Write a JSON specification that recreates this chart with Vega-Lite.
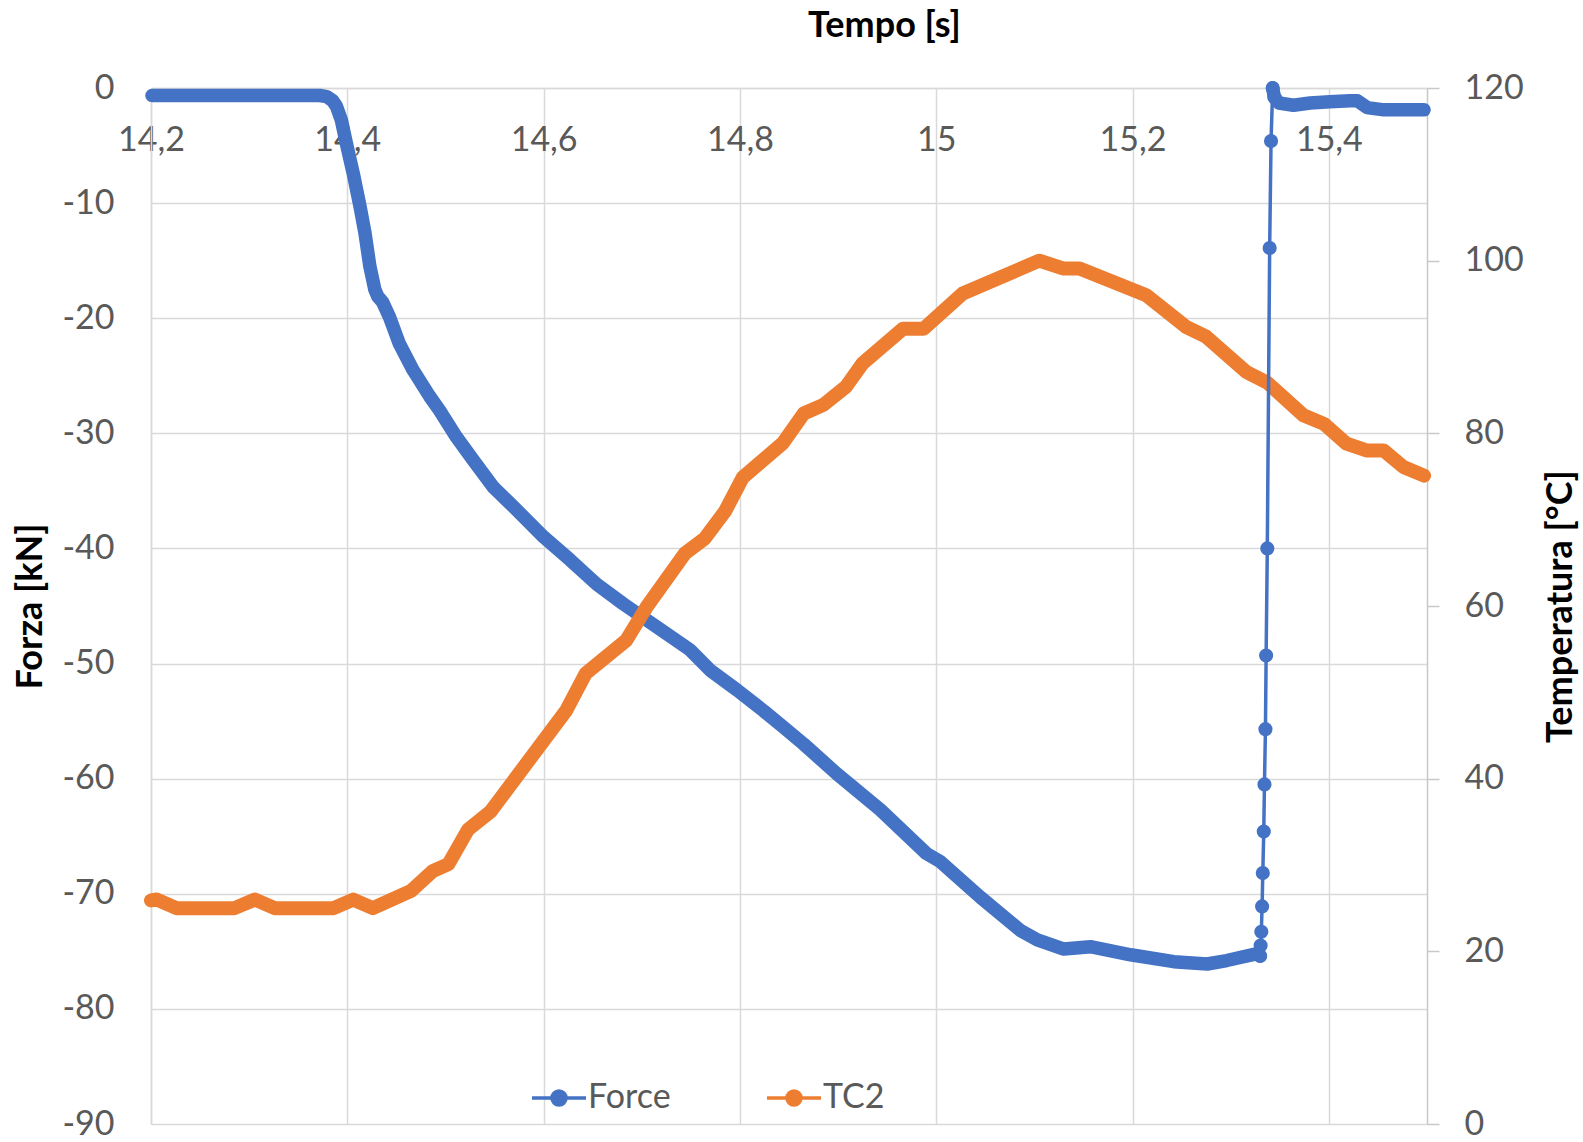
{
  "$schema": "https://vega.github.io/schema/vega-lite/v6.json",
  "width": 1276,
  "height": 1036,
  "autosize": {"type": "none"},
  "padding": {"left": 151, "top": 88, "right": 156, "bottom": 18},
  "background": "white",
  "config": {
    "view": {"stroke": null},
    "font": "Lato",
    "axis": {
      "labelFont": "Lato", "labelFontSize": 34, "labelColor": "#595959",
      "titleFont": "Lato", "titleFontSize": 36, "titleFontWeight": "bold", "titleColor": "#000000",
      "gridColor": "#D9D9D9", "gridWidth": 1.5, "domainColor": "#D9D9D9", "domainWidth": 1.5
    }
  },
  "datasets": {
    "force": [
      {"t": 14.201, "v": -0.65}, {"t": 14.25, "v": -0.65}, {"t": 14.3, "v": -0.65}, {"t": 14.35, "v": -0.65},
      {"t": 14.372, "v": -0.65}, {"t": 14.379, "v": -0.75}, {"t": 14.385, "v": -1.1}, {"t": 14.389, "v": -1.6},
      {"t": 14.394, "v": -2.8}, {"t": 14.399, "v": -4.8}, {"t": 14.406, "v": -7.4}, {"t": 14.413, "v": -10.3},
      {"t": 14.418, "v": -12.6}, {"t": 14.423, "v": -15.5}, {"t": 14.428, "v": -17.5}, {"t": 14.431, "v": -18.1},
      {"t": 14.436, "v": -18.6}, {"t": 14.443, "v": -19.9}, {"t": 14.453, "v": -22.2}, {"t": 14.467, "v": -24.5},
      {"t": 14.484, "v": -26.8}, {"t": 14.494, "v": -28.0}, {"t": 14.511, "v": -30.3}, {"t": 14.528, "v": -32.3},
      {"t": 14.549, "v": -34.7}, {"t": 14.566, "v": -36.1}, {"t": 14.6, "v": -39.0}, {"t": 14.627, "v": -41.0},
      {"t": 14.654, "v": -43.1}, {"t": 14.681, "v": -44.8}, {"t": 14.715, "v": -46.8}, {"t": 14.749, "v": -48.8},
      {"t": 14.77, "v": -50.6}, {"t": 14.797, "v": -52.3}, {"t": 14.824, "v": -54.1}, {"t": 14.844, "v": -55.5},
      {"t": 14.865, "v": -57.0}, {"t": 14.899, "v": -59.6}, {"t": 14.943, "v": -62.7}, {"t": 14.99, "v": -66.5},
      {"t": 15.004, "v": -67.2}, {"t": 15.045, "v": -70.3}, {"t": 15.086, "v": -73.2}, {"t": 15.103, "v": -74.0},
      {"t": 15.13, "v": -74.8}, {"t": 15.157, "v": -74.6}, {"t": 15.198, "v": -75.3}, {"t": 15.242, "v": -75.9},
      {"t": 15.276, "v": -76.1}, {"t": 15.296, "v": -75.8}, {"t": 15.327, "v": -75.2}, {"t": 15.33, "v": -75.4},
      {"t": 15.3305, "v": -74.5}, {"t": 15.3312, "v": -73.3}, {"t": 15.332, "v": -71.1}, {"t": 15.3327, "v": -68.2},
      {"t": 15.3337, "v": -64.6}, {"t": 15.3344, "v": -60.5}, {"t": 15.3354, "v": -55.7}, {"t": 15.3361, "v": -49.3},
      {"t": 15.3373, "v": -40.0}, {"t": 15.3397, "v": -13.9}, {"t": 15.3411, "v": -4.6}, {"t": 15.3428, "v": 0.0},
      {"t": 15.3445, "v": -0.8}, {"t": 15.349, "v": -1.3}, {"t": 15.364, "v": -1.5}, {"t": 15.381, "v": -1.3},
      {"t": 15.401, "v": -1.2}, {"t": 15.422, "v": -1.1}, {"t": 15.429, "v": -1.1}, {"t": 15.439, "v": -1.7},
      {"t": 15.456, "v": -1.9}, {"t": 15.497, "v": -1.9}
    ],
    "tc2": [
      {"t": 14.2, "v": 25.9}, {"t": 14.206, "v": 26.0}, {"t": 14.226, "v": 25.0}, {"t": 14.285, "v": 25.0},
      {"t": 14.306, "v": 26.0}, {"t": 14.326, "v": 25.0}, {"t": 14.386, "v": 25.0}, {"t": 14.406, "v": 26.0},
      {"t": 14.426, "v": 25.0}, {"t": 14.465, "v": 27.0}, {"t": 14.487, "v": 29.3}, {"t": 14.503, "v": 30.1},
      {"t": 14.523, "v": 34.1}, {"t": 14.546, "v": 36.2}, {"t": 14.623, "v": 47.9}, {"t": 14.643, "v": 52.2},
      {"t": 14.684, "v": 56.0}, {"t": 14.705, "v": 59.9}, {"t": 14.744, "v": 66.1}, {"t": 14.764, "v": 67.8},
      {"t": 14.785, "v": 71.0}, {"t": 14.803, "v": 74.9}, {"t": 14.844, "v": 78.9}, {"t": 14.865, "v": 82.3},
      {"t": 14.885, "v": 83.3}, {"t": 14.908, "v": 85.4}, {"t": 14.925, "v": 88.1}, {"t": 14.966, "v": 92.1},
      {"t": 14.987, "v": 92.1}, {"t": 15.027, "v": 96.2}, {"t": 15.105, "v": 100.0}, {"t": 15.129, "v": 99.1},
      {"t": 15.146, "v": 99.1}, {"t": 15.214, "v": 96.0}, {"t": 15.255, "v": 92.3}, {"t": 15.275, "v": 91.2},
      {"t": 15.316, "v": 87.1}, {"t": 15.337, "v": 85.9}, {"t": 15.374, "v": 82.1}, {"t": 15.395, "v": 81.1},
      {"t": 15.418, "v": 78.8}, {"t": 15.439, "v": 78.0}, {"t": 15.456, "v": 78.0}, {"t": 15.476, "v": 76.1},
      {"t": 15.497, "v": 75.1}
    ]
  },
  "encoding": {
    "x": {
      "field": "t", "type": "quantitative",
      "scale": {"domain": [14.2, 15.5], "nice": false, "zero": false},
      "axis": {
        "orient": "top", "title": "Tempo [s]",
        "values": [14.2, 14.4, 14.6, 14.8, 15, 15.2, 15.4],
        "labelExpr": "replace(format(datum.value, '.2~f'), '.', ',')",
        "ticks": false, "tickSize": 0, "labelPadding": -52, "labelBaseline": "middle",
        "labelFlush": false, "labelOverlap": false, "grid": true,
        "titleX": 733, "titleY": -63, "titleBaseline": "middle", "titleAlign": "center"
      }
    }
  },
  "layer": [
    {
      "data": {"name": "force"},
      "encoding": {
        "y": {
          "field": "v", "type": "quantitative",
          "scale": {"domain": [-90, 0], "nice": false},
          "axis": {
            "orient": "left", "title": "Forza [kN]",
            "values": [-90, -80, -70, -60, -50, -40, -30, -20, -10, 0],
            "labelExpr": "toString(datum.value)",
            "ticks": false, "tickSize": 0, "labelPadding": 37, "grid": true,
            "titleX": -121, "titleY": 518, "titleAngle": 270, "titleBaseline": "middle", "titleAlign": "center"
          }
        },
        "color": {
          "datum": "Force", "type": "nominal",
          "scale": {"domain": ["Force", "TC2"], "range": ["#4472C4", "#ED7D31"]},
          "legend": {
            "orient": "none", "legendX": 379, "legendY": 981, "direction": "horizontal", "title": null,
            "symbolType": "M-1,0H1M-0.26,0A0.26,0.26,0,1,0,0.26,0A0.26,0.26,0,1,0,-0.26,0Z",
            "symbolSize": 2916, "symbolStrokeWidth": 3.5,
            "labelFont": "Lato", "labelFontSize": 34, "labelColor": "#595959", "labelOffset": 0,
            "columnPadding": 89, "padding": 0,
            "encode": {"symbols": {"update": {"fill": {"scale": "color", "field": "value"}, "stroke": {"scale": "color", "field": "value"}, "opacity": {"value": 1}}}}
          }
        }
      },
      "layer": [
        {"transform": [{"filter": "datum.t <= 15.3301"}], "mark": {"type": "line", "strokeWidth": 13.5, "strokeCap": "round", "strokeJoin": "round"}},
        {"transform": [{"filter": "datum.t >= 15.3427"}], "mark": {"type": "line", "strokeWidth": 13.5, "strokeCap": "round", "strokeJoin": "round"}}
      ]
    },
    {
      "data": {"name": "tc2"},
      "mark": {"type": "line", "strokeWidth": 14, "strokeCap": "round", "strokeJoin": "round"},
      "encoding": {
        "y": {
          "field": "v", "type": "quantitative",
          "scale": {"domain": [0, 120], "nice": false},
          "axis": {
            "orient": "right", "title": "Temperatura [°C]",
            "values": [0, 20, 40, 60, 80, 100, 120],
            "grid": false, "ticks": true, "tickSize": 12, "tickWidth": 1.5, "tickColor": "#C8C8C8",
            "domainColor": "#C8C8C8", "labelPadding": 25,
            "titleX": 133, "titleY": 518, "titleAngle": 270, "titleBaseline": "middle", "titleAlign": "center"
          }
        },
        "color": {"datum": "TC2", "type": "nominal"}
      }
    },
    {
      "data": {"name": "force"},
      "transform": [{"filter": "datum.t >= 15.3299 && datum.t <= 15.3446"}],
      "mark": {"type": "line", "strokeWidth": 3.5, "point": {"size": 200, "filled": true, "opacity": 1}},
      "encoding": {
        "y": {"field": "v", "type": "quantitative", "scale": {"domain": [-90, 0], "nice": false}, "axis": null},
        "color": {"datum": "Force", "type": "nominal"}
      }
    }
  ],
  "resolve": {"scale": {"y": "independent"}}
}
